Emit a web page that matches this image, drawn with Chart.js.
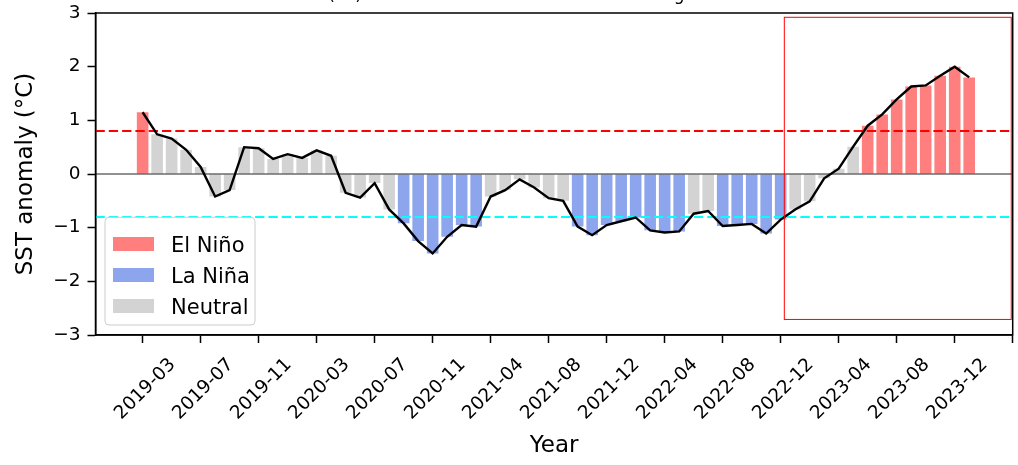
<!DOCTYPE html>
<html>
<head>
<meta charset="utf-8">
<script src="https://cdn.jsdelivr.net/npm/chart.js@4.4.1/dist/chart.umd.min.js"></script>
<style>
  html, body { margin: 0; padding: 0; background: #fff; overflow: hidden; }
  #wrap { position: absolute; left: 0; top: -30px; width: 1018px; height: 495px; }
</style>
</head>
<body>
<div id="wrap"><canvas id="ensoChart"></canvas></div>
<script>
// Monthly Niño 3.4 SST anomalies (°C); the source skips one month in early 2021
const months = [
    '2019-03', '2019-04', '2019-05', '2019-06', '2019-07', '2019-08', '2019-09', '2019-10',
    '2019-11', '2019-12', '2020-01', '2020-02', '2020-03', '2020-04', '2020-05', '2020-06',
    '2020-07', '2020-08', '2020-09', '2020-10', '2020-11', '2020-12', '2021-01', '2021-03',
    '2021-04', '2021-05', '2021-06', '2021-07', '2021-08', '2021-09', '2021-10', '2021-11',
    '2021-12', '2022-01', '2022-02', '2022-03', '2022-04', '2022-05', '2022-06', '2022-07',
    '2022-08', '2022-09', '2022-10', '2022-11', '2022-12', '2023-01', '2023-02', '2023-03',
    '2023-04', '2023-05', '2023-06', '2023-07', '2023-08', '2023-09', '2023-10', '2023-11',
    '2023-12', '2024-01'
];
const sstAnomaly = [
    1.15, 0.74, 0.66, 0.45, 0.13, -0.42, -0.30, 0.50, 0.48, 0.28,
    0.37, 0.30, 0.44, 0.34, -0.35, -0.44, -0.17, -0.66, -0.92, -1.25,
    -1.48, -1.17, -0.95, -0.98, -0.42, -0.30, -0.10, -0.25, -0.45, -0.50,
    -0.98, -1.14, -0.95, -0.88, -0.81, -1.05, -1.09, -1.07, -0.74, -0.69,
    -0.97, -0.95, -0.93, -1.11, -0.85, -0.66, -0.51, -0.08, 0.10, 0.51,
    0.90, 1.11, 1.39, 1.63, 1.65, 1.83, 2.00, 1.80
];
const tickEvery = 4;

const elNinoThreshold = 0.8;
const laNinaThreshold = -0.8;

const phaseNames = ['El Niño', 'La Niña', 'Neutral'];
const phaseColors = ['rgba(255, 0, 0, 0.5)', 'rgba(65, 105, 225, 0.6)', 'lightgray'];

// recent-event box, in data units
const highlightBox = { x0: 44.25, x1: 59.9, y0: -2.71, y1: 2.92 };

const titleText = 'Niño 3.4 SST (°C) Anomalies and ENSO Events – Strong 2023 El Niño';

const phaseOf = v => v >= elNinoThreshold ? 0 : (v <= laNinaThreshold ? 1 : 2);
const points = sstAnomaly.map((v, i) => ({ x: i, y: v }));

Chart.defaults.font.family = 'DejaVu Sans';
Chart.defaults.color = 'black';

// Threshold lines, highlight box, frame and legend
const ensoDecor = {
    id: 'ensoDecor',
    afterDatasetDraw(chart, args) {
        if (args.index !== 1) return;
        const { ctx, chartArea: a, scales: { y } } = chart;
        const hline = (v, color, width, dash) => {
            const py = y.getPixelForValue(v);
            ctx.beginPath();
            ctx.setLineDash(dash);
            ctx.strokeStyle = color;
            ctx.lineWidth = width;
            ctx.moveTo(a.left, py);
            ctx.lineTo(a.right, py);
            ctx.stroke();
        };
        ctx.save();
        hline(0, '#222', 1.1, []);
        hline(elNinoThreshold, 'red', 2, [9.3, 4]);
        hline(laNinaThreshold, 'cyan', 2, [9.3, 4]);
        ctx.restore();
    },
    afterDraw(chart) {
        const { ctx, chartArea: a, scales: { x, y } } = chart;
        ctx.save();

        // highlight rectangle
        const bx0 = x.getPixelForValue(highlightBox.x0);
        const bx1 = x.getPixelForValue(highlightBox.x1);
        const by0 = y.getPixelForValue(highlightBox.y1);
        const by1 = y.getPixelForValue(highlightBox.y0);
        ctx.strokeStyle = 'red';
        ctx.lineWidth = 1;
        ctx.strokeRect(bx0, by0, bx1 - bx0, by1 - by0);

        // frame
        ctx.strokeStyle = 'black';
        ctx.lineWidth = 1.5;
        ctx.strokeRect(a.left, a.top, a.width, a.height);

        // legend, lower left
        const lw = 150, lh = 107.7;
        const lx = a.left + 9.5, ly = a.bottom - 10 - lh;
        ctx.beginPath();
        ctx.roundRect(lx, ly, lw, lh, 4);
        ctx.fillStyle = 'rgba(255, 255, 255, 0.8)';
        ctx.fill();
        ctx.strokeStyle = '#cccccc';
        ctx.lineWidth = 1;
        ctx.stroke();
        ctx.font = '21px "DejaVu Sans"';
        ctx.textBaseline = 'alphabetic';
        phaseNames.forEach((name, i) => {
            const cy = ly + 26.7 + i * 31;
            ctx.fillStyle = phaseColors[i];
            ctx.fillRect(lx + 8, cy - 7, 41, 14);
            ctx.fillStyle = 'black';
            ctx.fillText(name, lx + 66, cy + 7.5);
        });
        ctx.restore();
    }
};

const axisFont = { size: 23 };
const tickFont = { size: 18.5 };
const tickGrid = { drawOnChartArea: false, drawTicks: true, offset: false, tickLength: 8, tickWidth: 1.5, tickColor: 'black' };
const axisBorder = { display: true, color: 'black', width: 1.5 };

new Chart(document.getElementById('ensoChart'), {
    type: 'bar',
    data: {
        datasets: [
            {
                type: 'line',
                label: 'SST anomaly',
                data: points,
                borderColor: 'black',
                borderWidth: 2.4,
                pointRadius: 0,
                tension: 0,
                order: 0
            },
            {
                type: 'bar',
                label: 'Phase',
                data: points,
                backgroundColor: sstAnomaly.map(v => phaseColors[phaseOf(v)]),
                borderWidth: 0,
                barPercentage: 0.8,
                categoryPercentage: 1,
                order: 1
            }
        ]
    },
    options: {
        responsive: true,
        maintainAspectRatio: false,
        animation: false,
        layout: { padding: { left: 0, right: 5.3, top: 0, bottom: 0 } },
        plugins: {
            legend: { display: false },
            tooltip: { enabled: false },
            title: {
                display: true,
                text: titleText,
                color: 'black',
                font: { size: 17, weight: 'normal' },
                padding: { top: 15.8, bottom: 6.8 }
            }
        },
        scales: {
            x: {
                type: 'linear',
                min: -3.25,
                max: 60,
                offset: false,
                afterBuildTicks: s => {
                    s.ticks = [];
                    for (let i = 0; i <= s.max; i += tickEvery) s.ticks.push({ value: i });
                },
                ticks: {
                    autoSkip: false,
                    minRotation: 45,
                    maxRotation: 45,
                    labelOffset: 30,
                    padding: 11,
                    font: tickFont,
                    color: 'black',
                    callback: v => months[v] ?? ''
                },
                grid: tickGrid,
                border: axisBorder,
                title: { display: true, text: 'Year', font: axisFont, color: 'black', padding: { top: 0, bottom: 5 } },
                afterFit: s => { s.height = 130; s.paddingLeft = 0; s.paddingRight = 0; }
            },
            y: {
                min: -3,
                max: 3,
                ticks: {
                    stepSize: 1,
                    font: tickFont,
                    color: 'black',
                    padding: 7,
                    callback: v => v < 0 ? '\u2212' + Math.abs(v) : String(v)
                },
                grid: tickGrid,
                border: axisBorder,
                title: { display: true, text: 'SST anomaly (°C)', font: axisFont, color: 'black', padding: { top: 12, bottom: 0 } },
                afterFit: s => { s.width = 95.5; }
            }
        }
    },
    plugins: [ensoDecor]
});
</script>
</body>
</html>
